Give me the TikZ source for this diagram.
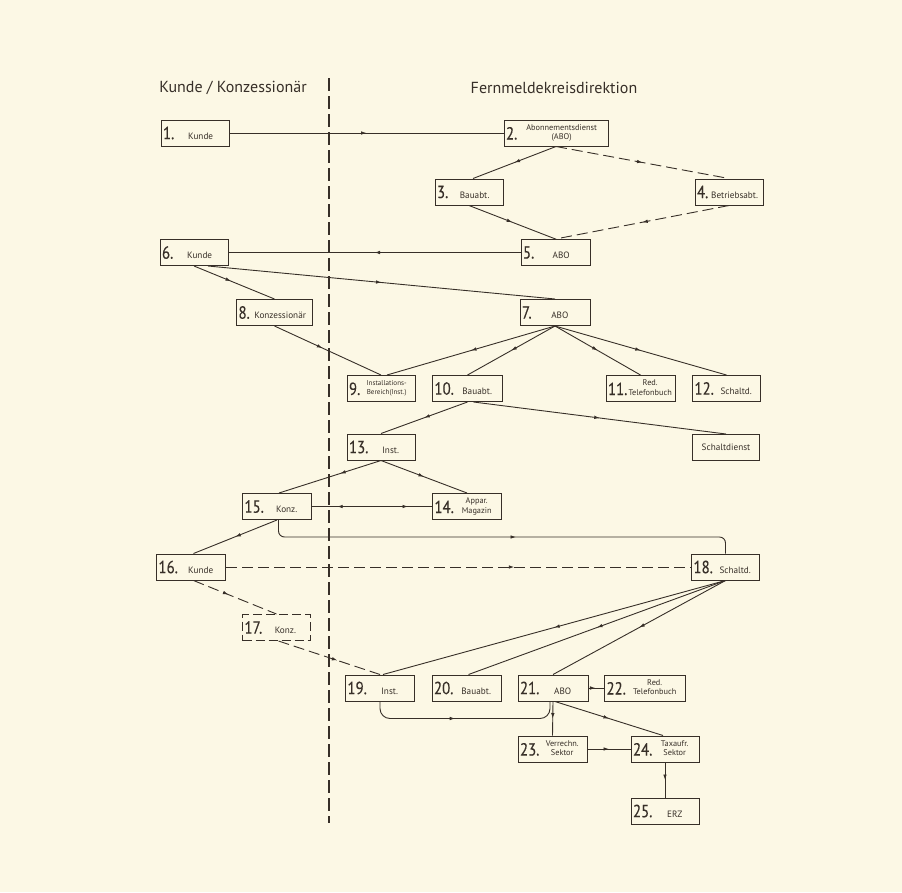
\documentclass[tikz,border=0pt]{standalone}
\usepackage{fontspec}
\setmainfont{PT Sans}
\newfontfamily\numface{PT Sans}[FakeStretch=0.85,FakeBold=0.25]
\usetikzlibrary{arrows.meta,decorations.markings}

\definecolor{paper}{RGB}{252,248,229}
\definecolor{ink}{RGB}{55,47,40}

\newcommand{\numfnt}{\numface\fontsize{17.5}{17.5}\selectfont}
\newcommand{\txtfnt}{\fontsize{9.2}{10}\selectfont}
\newcommand{\smfnt}{\fontsize{8.3}{9.3}\selectfont}
% number + one line / number + two lines
\newcommand{\lbl}[2]{\makebox[\linewidth][s]{{\numfnt #1}\hfill{\txtfnt #2}\hfill}}
\newcommand{\lbll}[3]{\makebox[\linewidth][s]{{\numfnt #1}\hfill{\smfnt\begin{tabular}[b]{@{}c@{}}#2\\#3\end{tabular}}\hfill}}

\tikzset{
  flowtip/.tip={Latex[length=5.5pt,width=3.6pt]},
  box/.style={draw=ink, line width=1pt, inner xsep=2pt, inner ysep=0pt,
    minimum height=26pt, text width={#1pt-4pt}, text=ink},
  box/.default=69,
  conn/.style={draw=ink, line width=0.9pt},
  dsh/.style={conn, dash pattern=on 11pt off 5pt},
  midarr/.style={postaction={decorate}, decoration={markings,
    mark=at position #1 with {\arrow{flowtip}}}},
  midarr/.default=0.5,
  biarr/.style={postaction={decorate}, decoration={markings,
    mark=at position 0.21 with {\arrowreversed{flowtip}},
    mark=at position 0.8 with {\arrow{flowtip}}}},
  title/.style={text=ink, font=\fontsize{16}{18}\selectfont}
}

\begin{document}
\begin{tikzpicture}[x=1pt,y=1pt,yscale=-1,xscale=1]
\fill[paper] (0,0) rectangle (902,892);
\useasboundingbox (0,0) rectangle (902,892);

% Text Node
\node[title] (tleft) at (233,88) {Kunde / Konzessionär};
% Text Node
\node[title] (tright) at (554,88) {Fernmeldekreisdirektion};

% divider
\coordinate (dtop) at (329,78);
\coordinate (dbot) at (329,823);
\draw[ink, line width=1.2pt, dash pattern=on 13pt off 5pt] (dtop) -- (dbot);

%Flowchart: Process
\node[box=68] (n1) at (195,133) {\lbl{1.}{Kunde}};
\node[box=104] (n2) at (556,133) {\lbll{2.}{Abonnementsdienst}{(ABO)}};
\node[box=68] (n3) at (469,192) {\lbl{3.}{Bauabt.}};
\node[box=68] (n4) at (729,192) {\lbl{4.}{Betriebsabt.}};
\node[box=69] (n5) at (555.5,252.5) {\lbl{5.}{ABO}};
\node[box=68] (n6) at (194,252.5) {\lbl{6.}{Kunde}};
\node[box=70] (n7) at (555,312.5) {\lbl{7.}{ABO}};
\node[box=76] (n8) at (274.5,312.5) {\lbl{8.}{Konzessionär}};
\node[box=68] (n9) at (381,388.5) {\makebox[\linewidth][s]{{\numfnt 9.}\hfill{\fontsize{7.1}{9.2}\selectfont\begin{tabular}[b]{@{}c@{}}Installations-\\Bereich(Inst.)\end{tabular}}\hfill}};
\node[box=70] (n10) at (467.5,388.5) {\lbl{10.}{Bauabt.}};
\node[box=69] (n11) at (640.5,388.5) {\lbll{11.}{Red.}{Telefonbuch}};
\node[box=68] (n12) at (726.5,388.5) {\lbl{12.}{Schaltd.}};
\node[box=68] (n13) at (381,447) {\lbl{13.}{Inst.}};
\node[box=67] (nsd) at (726,447.5) {\makebox[\linewidth]{\txtfnt Schaltdienst}};
\node[box=69] (n14) at (467,506.5) {\lbll{14.}{Appar.}{Magazin}};
\node[box=69] (n15) at (277,506.5) {\lbl{15.}{Konz.}};
\node[box=69] (n16) at (191,567) {\lbl{16.}{Kunde}};
\node[box=68, dash pattern=on 9pt off 4pt] (n17) at (276.5,627.5) {\lbl{17.}{Konz.}};
\node[box=68] (n18) at (725.5,567) {\lbl{18.}{Schaltd.}};
\node[box=69] (n19) at (380,688) {\lbl{19.}{Inst.}};
\node[box=69] (n20) at (466.5,688) {\lbl{20.}{Bauabt.}};
\node[box=70] (n21) at (553,688) {\lbl{21.}{ABO}};
\node[box=81] (n22) at (645,688) {\lbll{22.}{Red.}{Telefonbuch}};
\node[box=69] (n23) at (552.5,749) {\lbll{23.}{Verrechn.}{Sektor}};
\node[box=68] (n24) at (665,749) {\lbll{24.}{Taxaufr.}{Sektor}};
\node[box=68] (n25) at (665,811) {\lbl{25.}{ERZ}};

% connectors
\draw[conn, midarr] (n1.east) -- (n2.west);
\draw[conn, midarr] (n2.south) -- ([xshift=4pt]n3.north);
\draw[dsh, midarr] (n2.south) -- (n4.north);
\draw[conn, midarr] (n3.south) -- (n5.north);
\draw[dsh, midarr] (n4.south) -- (n5.north);
\draw[conn, midarr] (n5.west) -- (n6.east);
\draw[conn, midarr] ([xshift=14pt]n6.south) -- (n7.north);
\draw[conn, midarr=0.46] (n6.south) -- (n8.north);
\draw[conn, midarr=0.45] (n8.south) -- (n9.north);
\draw[conn, midarr] (n7.south) -- ([xshift=6pt]n9.north);
\draw[conn, midarr] (n7.south) -- (n10.north);
\draw[conn, midarr] (n7.south) -- (n11.north);
\draw[conn, midarr] (n7.south) -- (n12.north);
\draw[conn, midarr] (n10.south) -- (n13.north);
\draw[conn, midarr] ([xshift=6pt]n10.south) -- (nsd.north);
\draw[conn, midarr=0.4] (n13.south) -- ([xshift=2pt]n15.north);
\draw[conn, midarr] (n13.south) -- (n14.north);
\draw[conn, biarr] (n15.east) -- (n14.west);
\draw[conn, midarr=0.53, rounded corners=6pt] ([xshift=1.5pt]n15.south) -- ++(0,17) -| (n18.north);
\draw[conn, midarr] (n15.south) -- ([xshift=2.5pt]n16.north);
\draw[dsh, midarr=0.62] (n16.east) -- (n18.west);
\draw[dsh, midarr=0.42] ([xshift=2.5pt]n16.south) -- (n17.north);
\draw[dsh, midarr=0.58] ([xshift=2pt]n17.south) -- (n19.north);
\draw[conn, midarr] (n18.south) -- ([xshift=3pt]n19.north);
\draw[conn, midarr] (n18.south) -- ([xshift=2pt]n20.north);
\draw[conn, midarr] (n18.south) -- (n21.north);
\draw[conn, midarr=0.45, rounded corners=10pt] (n19.south) -- ++(0,17) -| ([xshift=-3pt]n21.south);
\draw[conn, midarr=0.45] (n21.east) -- (n22.west);
\draw[conn, midarr] (n21.south) -- (n23.north);
\draw[conn, midarr] ([xshift=2pt]n21.south) -- ([xshift=-2pt]n24.north);
\draw[conn, midarr] (n23.east) -- (n24.west);
\draw[conn, midarr] (n24.south) -- (n25.north);

\end{tikzpicture}
\end{document}
